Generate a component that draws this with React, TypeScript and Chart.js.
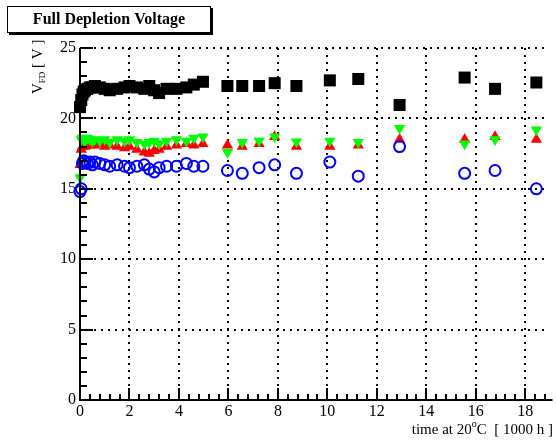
import React, { useEffect, useRef } from "react";
import { Chart, registerables } from "chart.js";

Chart.register(...registerables);

// shared measurement times [1000 h]
const times = [
  0.0, 0.05, 0.1, 0.15, 0.2, 0.3, 0.4, 0.5, 0.6, 0.8, 1.0, 1.2, 1.5, 1.8, 2.0, 2.3, 2.6, 2.8,
  3.0, 3.2, 3.5, 3.9, 4.3, 4.6, 4.97, 5.96, 6.56, 7.24, 7.87, 8.75, 10.1, 11.25, 12.92, 15.55,
  16.78, 18.45,
];
const blackSquares = [
  20.8, 21.3, 21.7, 21.9, 22.0, 22.1, 22.2, 22.2, 22.3, 22.2, 22.1, 22.0, 22.1, 22.2, 22.3, 22.2,
  22.1, 22.3, 22.0, 21.8, 22.1, 22.1, 22.2, 22.4, 22.6, 22.3, 22.3, 22.3, 22.5, 22.3, 22.7, 22.8,
  20.95, 22.9, 22.1, 22.55,
];
const redUp = [
  16.7, 17.8, 18.0, 18.1, 18.0, 18.2, 18.1, 18.2, 18.1, 18.2, 18.0, 18.1, 18.0, 17.9, 18.0, 17.8,
  17.6, 17.5, 17.7, 17.8, 18.0, 18.1, 18.2, 18.1, 18.2, 18.1, 18.0, 18.2, 18.7, 18.0, 18.0, 18.1,
  18.5, 18.5, 18.7, 18.5,
];
const greenDown = [
  15.8, 18.5, 18.6, 18.5, 18.4, 18.6, 18.5, 18.4, 18.5, 18.4, 18.5, 18.3, 18.5, 18.4, 18.5, 18.3,
  18.2, 18.3, 18.4, 18.2, 18.4, 18.5, 18.4, 18.6, 18.7, 17.6, 18.3, 18.4, 18.7, 18.35, 18.4, 18.3,
  19.3, 18.2, 18.5, 19.2,
];
const blueCircles = [
  14.8, 15.0, 16.8, 17.0, 16.9, 16.8, 16.9, 16.7, 16.9, 16.8, 16.7, 16.6, 16.7, 16.6, 16.5, 16.6,
  16.7, 16.4, 16.2, 16.5, 16.6, 16.6, 16.8, 16.6, 16.6, 16.3, 16.1, 16.5, 16.7, 16.1, 16.9, 15.9,
  18.0, 16.1, 16.3, 15.0,
];

const xMin = 0;
const xMax = 18.9;
const xStep = 2;
const xMinorStep = 0.4;
const yMin = 0;
const yMax = 25;
const yStep = 5;
const yMinorStep = 1;

const titleText = "Full Depletion Voltage";
const yTitleMain = "V";
const yTitleSub = "FD";
const yTitleRest = " [ V ]";
const xTitleA = "time at 20";
const xTitleSup = "o";
const xTitleB = "C  [ 1000 h ]";

const SERIF = "'Liberation Serif', 'Times New Roman', serif";

const pts = (vals: number[]) => vals.map((v, i) => ({ x: times[i], y: v }));

const decorPlugin = {
  id: "decor",
  afterDatasetsDraw(chart: any) {
    const ctx = chart.ctx as CanvasRenderingContext2D;
    const { left, right, top, bottom } = chart.chartArea;
    const xs = chart.scales.x;
    const ys = chart.scales.y;
    ctx.save();
    ctx.strokeStyle = "#000";
    ctx.setLineDash([]);
    ctx.lineWidth = 2;
    ctx.beginPath();
    ctx.moveTo(left, top);
    ctx.lineTo(left, bottom);
    ctx.lineTo(right + 5, bottom);
    ctx.stroke();
    for (let v = yMin; v <= yMax + 1e-9; v += yMinorStep) {
      const p = Math.round(ys.getPixelForValue(v));
      const major = Math.abs(v / yStep - Math.round(v / yStep)) < 1e-6;
      ctx.beginPath();
      ctx.moveTo(left, p);
      ctx.lineTo(left + (major ? 13 : 7), p);
      ctx.stroke();
    }
    for (let k = 0; k * xMinorStep <= xMax + 1e-9; k++) {
      const v = k * xMinorStep;
      const p = Math.round(xs.getPixelForValue(v));
      const major = Math.abs(v / xStep - Math.round(v / xStep)) < 1e-6;
      ctx.beginPath();
      ctx.moveTo(p, bottom);
      ctx.lineTo(p, bottom - (major ? 12 : 6));
      ctx.stroke();
    }
    ctx.restore();
  },
  afterDraw(chart: any) {
    const ctx = chart.ctx as CanvasRenderingContext2D;
    ctx.save();
    ctx.fillStyle = "#000";
    ctx.fillRect(9, 8, 204, 27);
    ctx.fillStyle = "#fff";
    ctx.fillRect(7, 6, 204, 27);
    ctx.strokeStyle = "#000";
    ctx.lineWidth = 1;
    ctx.strokeRect(7.5, 6.5, 203, 26);
    ctx.fillStyle = "#000";
    ctx.font = `bold 16px ${SERIF}`;
    ctx.textAlign = "center";
    ctx.textBaseline = "middle";
    ctx.fillText(titleText, 109, 20);

    ctx.save();
    ctx.translate(42, 94);
    ctx.rotate(-Math.PI / 2);
    ctx.textAlign = "left";
    ctx.textBaseline = "alphabetic";
    ctx.font = `15px ${SERIF}`;
    let x = 0;
    ctx.fillText(yTitleMain, x, 0);
    x += ctx.measureText(yTitleMain).width;
    ctx.font = `9px ${SERIF}`;
    ctx.fillText(yTitleSub, x, 3);
    x += ctx.measureText(yTitleSub).width;
    ctx.font = `15px ${SERIF}`;
    ctx.fillText(yTitleRest, x, 0);
    ctx.restore();

    ctx.textBaseline = "alphabetic";
    ctx.textAlign = "left";
    ctx.font = `15px ${SERIF}`;
    const wA = ctx.measureText(xTitleA).width;
    const wB = ctx.measureText(xTitleB).width;
    ctx.font = `10px ${SERIF}`;
    const wS = ctx.measureText(xTitleSup).width;
    const endX = 553;
    const baseY = 434;
    let sx = endX - (wA + wS + wB);
    ctx.font = `15px ${SERIF}`;
    ctx.fillText(xTitleA, sx, baseY);
    sx += wA;
    ctx.font = `10px ${SERIF}`;
    ctx.fillText(xTitleSup, sx, baseY - 7);
    sx += wS;
    ctx.font = `15px ${SERIF}`;
    ctx.fillText(xTitleB, sx, baseY);
    ctx.restore();
  },
};

export default function App() {
  const canvasRef = useRef<HTMLCanvasElement | null>(null);

  useEffect(() => {
    if (!canvasRef.current) return;
    const gridColor = (c: any) => (c.tick && c.tick.value === 0 ? "rgba(0,0,0,0)" : "#000");
    const chart = new Chart(canvasRef.current, {
      type: "scatter",
      data: {
        datasets: [
          {
            data: pts(blackSquares),
            pointStyle: "rect",
            pointRadius: 8.5,
            backgroundColor: "#000",
            borderColor: "#000",
            borderWidth: 0,
            clip: false,
          },
          {
            data: pts(blueCircles),
            pointStyle: "circle",
            pointRadius: 5.5,
            backgroundColor: "rgba(0,0,0,0)",
            borderColor: "#0000ff",
            borderWidth: 2,
            clip: false,
          },
          {
            data: pts(greenDown),
            pointStyle: "triangle",
            rotation: 180,
            pointRadius: 6.5,
            backgroundColor: "#00ff00",
            borderColor: "#00ff00",
            borderWidth: 0,
            clip: false,
          },
          {
            data: pts(redUp),
            pointStyle: "triangle",
            pointRadius: 6.5,
            backgroundColor: "#ff0000",
            borderColor: "#ff0000",
            borderWidth: 0,
            clip: false,
          },
        ],
      },
      options: {
        animation: false,
        responsive: false,
        maintainAspectRatio: false,
        devicePixelRatio: 1,
        layout: { padding: { top: 48, left: 0, right: 1, bottom: 0 } },
        plugins: {
          legend: { display: false },
          tooltip: { enabled: false },
          title: { display: false },
        },
        scales: {
          x: {
            type: "linear",
            min: xMin,
            max: xMax,
            afterFit: (s: any) => {
              s.height = 40;
            },
            ticks: {
              stepSize: xStep,
              includeBounds: false,
              padding: 2,
              color: "#000",
              font: { family: SERIF, size: 16 },
              maxRotation: 0,
            },
            grid: { color: gridColor, lineWidth: 2, drawTicks: false },
            border: { display: false, dash: [2, 5] },
          },
          y: {
            type: "linear",
            min: yMin,
            max: yMax,
            afterFit: (s: any) => {
              s.width = 80;
            },
            ticks: {
              stepSize: yStep,
              padding: 4,
              color: "#000",
              font: { family: SERIF, size: 16 },
            },
            grid: { color: gridColor, lineWidth: 2, drawTicks: false },
            border: { display: false, dash: [2, 5] },
          },
        },
      },
      plugins: [decorPlugin],
    });
    return () => chart.destroy();
  }, []);

  return (
    <div style={{ position: "absolute", left: 0, top: 0, width: 556, height: 440, background: "#fff" }}>
      <canvas ref={canvasRef} width={556} height={440} style={{ width: 556, height: 440, display: "block" }} />
    </div>
  );
}
